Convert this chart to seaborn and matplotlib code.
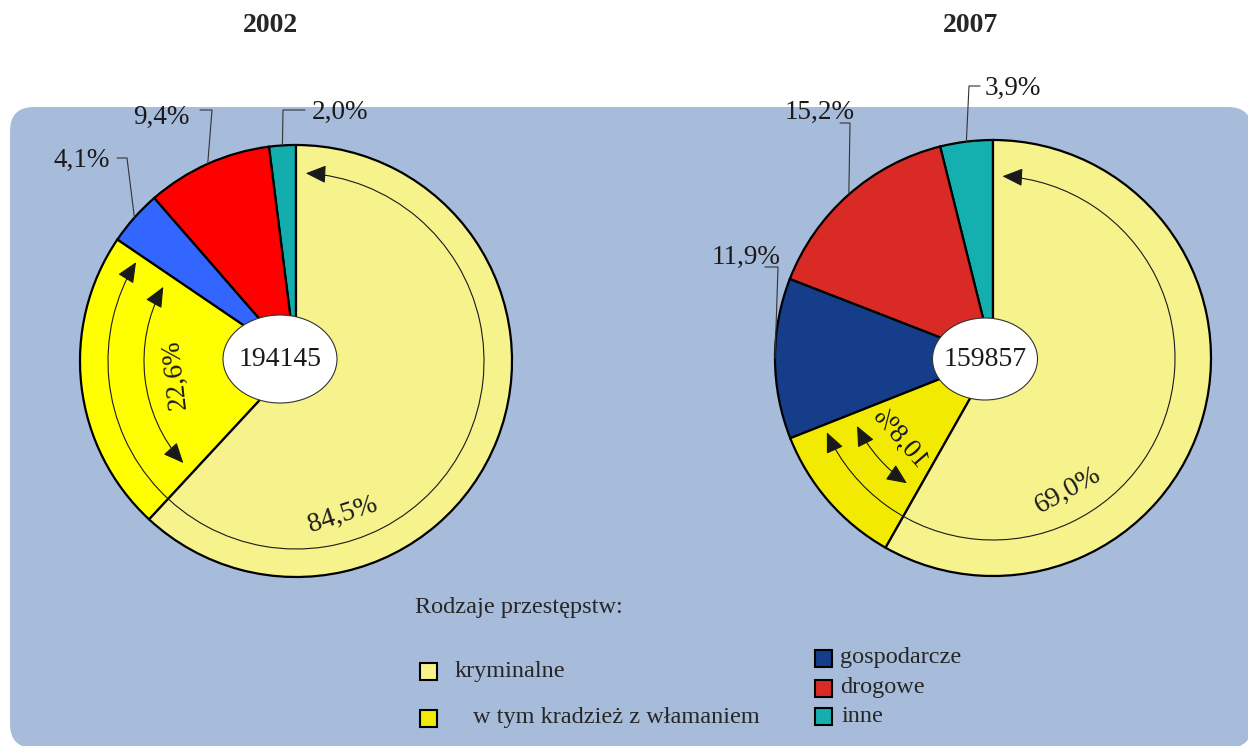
import numpy as np
import matplotlib
matplotlib.use("Agg")
import matplotlib.pyplot as plt
import seaborn as sns
from matplotlib.patches import Ellipse, FancyBboxPatch, FancyArrowPatch, Rectangle, PathPatch
from matplotlib.path import Path
from matplotlib.textpath import TextPath
from matplotlib.font_manager import FontProperties
from matplotlib.transforms import Affine2D

# Dane (udzial procentowy rodzajow przestepstw)
lata = ["2002", "2007"]
ogolem = [194145, 159857]
kryminalne = [84.5, 69.0]
wlamania = [22.6, 10.8]
gospodarcze = [4.1, 11.9]
drogowe = [9.4, 15.2]
inne = [2.0, 3.9]

kolory = {
    "2002": ["#13adad", "#ff0000", "#3366ff", "#ffff00", "#f6f28c"],
    "2007": ["#14afaf", "#da2a26", "#153d8a", "#f2ea00", "#f6f28c"],
}
legenda_lewa = ["kryminalne", "w tym kradzież z włamaniem"]
legenda_prawa = ["gospodarcze", "drogowe", "inne"]

sns.set_theme(style="white")
plt.rcParams["font.family"] = ["Liberation Serif", "DejaVu Serif"]

W, H = 1248, 746
fig = plt.figure(figsize=(W / 100, H / 100), dpi=100)
ax = fig.add_axes([0, 0, 1, 1])


def Y(py):
    return H - py


def fmt(v):
    return f"{v:.1f}".replace(".", ",") + "%"


def pt(c, r, ang):
    a = np.deg2rad(ang)
    return c[0] + r * np.cos(a), c[1] + r * np.sin(a)


def luk(c, r, a1, a2):
    p = Path.arc(a1, a2)
    return Path(p.vertices * r + np.array(c), p.codes)


# tlo
ax.add_patch(FancyBboxPatch((10, Y(748)), 1242, 748 - 107,
                            boxstyle="round,pad=0,rounding_size=24",
                            fc="#a7bbda", ec="none", zorder=0))

srodki = [(296, 361), (993, 358)]
promienie = [216, 218]
elipsy = [((280, 359), 114, 88), ((985, 359), 105, 82)]
# pozycje etykiet z liniami odniesienia: (tekst x, tekst y, lamanie linii)
odnosniki = [
    [((312, 112), "left", [(305, 110), (283, 110)]),
     ((190, 117), "right", [(200, 110), (212, 110)]),
     ((110, 160), "right", [(117, 158), (127, 158)])],
    [((985, 88), "left", [(980, 86), (969, 86)]),
     ((855, 112), "right", [(840, 123), (850, 123)]),
     ((780, 257), "right", [(765, 267), (778, 267)])],
]
etykiety_kr = [((343, 515), 18), ((1068, 490), 29)]

for i, rok in enumerate(lata):
    c = (srodki[i][0], Y(srodki[i][1]))
    r = promienie[i]
    vals = [inne[i], drogowe[i], gospodarcze[i], wlamania[i], kryminalne[i] - wlamania[i]]
    ax.pie(vals, colors=kolory[rok], startangle=90, counterclock=True,
           center=c, radius=r, normalize=True,
           wedgeprops=dict(edgecolor="black", linewidth=1.6))

    kat = 90 + np.cumsum([0] + vals) * 3.6
    # etykiety z liniami
    for j, (tpos, ha, lam) in enumerate(odnosniki[i]):
        mid = (kat[j] + kat[j + 1]) / 2
        ex, ey = pt(c, r, mid)
        xs = [p[0] for p in lam] + [ex]
        ys = [Y(p[1]) for p in lam] + [ey]
        ax.plot(xs, ys, color="#333333", lw=0.8, zorder=3)
        ax.text(tpos[0], Y(tpos[1]), fmt(vals[j]), ha=ha, va="center",
                fontsize=19.5, color="#1a1a1a", zorder=5)

    # luk dla kryminalnych
    r_out = 188 if i == 0 else 182
    ax.add_patch(FancyArrowPatch(path=luk(c, r_out, kat[3] + 2.5, 447),
                                 arrowstyle="<|-|>,head_length=0.9,head_width=0.4",
                                 mutation_scale=14, color="#1a1a1a", lw=0.8,
                                 shrinkA=0, shrinkB=0, zorder=3))
    # luk dla wlaman
    ax.add_patch(FancyArrowPatch(path=luk(c, 152, kat[3] + 5, kat[4] - 5),
                                 arrowstyle="<|-|>,head_length=0.9,head_width=0.4",
                                 mutation_scale=14, color="#1a1a1a", lw=0.8,
                                 shrinkA=0, shrinkB=0, zorder=3))
    mid_w = (kat[3] + kat[4]) / 2
    tx, ty = pt(c, 122, mid_w)
    if i == 0:
        ax.text(tx, ty, fmt(wlamania[i]), rotation=mid_w - 90, ha="center", va="center",
                rotation_mode="anchor", fontsize=19.5, color="#1a1a1a", zorder=5)
    else:
        # odwrocony napis jak w oryginale
        tp = TextPath((0, 0), fmt(wlamania[i]), size=27,
                      prop=FontProperties(family="Liberation Serif"))
        bb = tp.get_extents()
        tr = (Affine2D().translate(-(bb.x0 + bb.x1) / 2, -(bb.y0 + bb.y1) / 2)
              .scale(1, -1).rotate_deg(mid_w - 90).translate(tx, ty) + ax.transData)
        ax.add_patch(PathPatch(tp, transform=tr, fc="#1a1a1a", ec="none", zorder=5))

    (kx, ky), rot = etykiety_kr[i]
    ax.text(kx, Y(ky), fmt(kryminalne[i]), rotation=rot, ha="center", va="center",
            rotation_mode="anchor", fontsize=20, color="#1a1a1a", zorder=5)

    (ex, ey), ew, eh = elipsy[i]
    ax.add_patch(Ellipse((ex, Y(ey)), ew, eh, fc="white", ec="#333333", lw=0.8, zorder=4))
    ax.text(ex, Y(ey), str(ogolem[i]), ha="center", va="center", fontsize=20,
            color="#1a1a1a", zorder=5)

# tytuly
ax.text(270, Y(26), lata[0], ha="center", va="center", fontsize=20, fontweight="bold")
ax.text(970, Y(26), lata[1], ha="center", va="center", fontsize=20, fontweight="bold")

# legenda
ax.text(415, Y(607), "Rodzaje przestępstw:", ha="left", va="center", fontsize=17.5)
sq = 17
lewa_poz = [(428, 671, 455), (428, 718, 473)]
for (sx, sy, tx), lab, col in zip(lewa_poz, legenda_lewa, kolory["2007"][4:2:-1]):
    ax.add_patch(Rectangle((sx - sq / 2, Y(sy) - sq / 2), sq, sq, fc=col, ec="black", lw=1.5, zorder=5))
    ax.text(tx, Y(sy), lab, ha="left", va="center", fontsize=17.5)
prawa_poz = [(823, 658, 840), (823, 688, 840), (823, 716, 842)]
for (sx, sy, tx), lab, col in zip(prawa_poz, legenda_prawa, kolory["2007"][2::-1]):
    ax.add_patch(Rectangle((sx - sq / 2, Y(sy) - sq / 2), sq, sq, fc=col, ec="black", lw=1.5, zorder=5))
    ax.text(tx, Y(sy), lab, ha="left", va="center", fontsize=17.5)

ax.set_xlim(0, W)
ax.set_ylim(0, H)
ax.set_aspect("equal")
ax.axis("off")

fig.savefig("out.png", dpi=100, facecolor="white")
